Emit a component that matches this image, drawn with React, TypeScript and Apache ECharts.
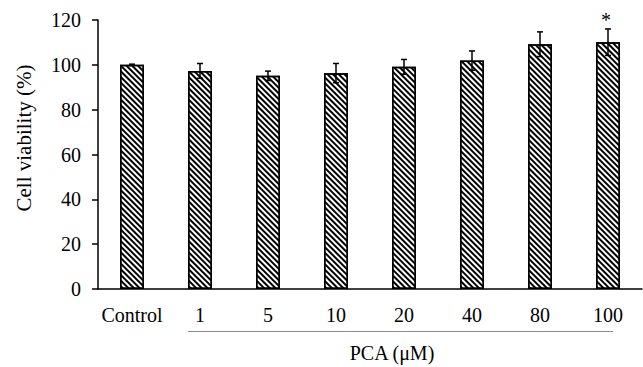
import React, { useEffect, useRef } from "react";
import * as echarts from "echarts";

const categories = ["Control", "1", "5", "10", "20", "40", "80", "100"];
const viability = [100, 97.3, 95.1, 96.3, 99.1, 101.9, 109.2, 110.1];
const errors = [0.3, 3.3, 2.1, 4.3, 3.3, 4.3, 5.5, 5.9];
const significance = ["", "", "", "", "", "", "", "*"];
const yTicks = [0, 20, 40, 60, 80, 100, 120];

const FONT = "Liberation Serif";
const FS = 20;

export default function App() {
  const ref = useRef<HTMLDivElement>(null);
  useEffect(() => {
    if (!ref.current) return;
    const chart = echarts.init(ref.current, null, { renderer: "svg" });
    const errData = viability.map((v, i) => [i, v - errors[i], v + errors[i], v]);
    chart.setOption({
      animation: false,
      backgroundColor: "#fff",
      grid: { left: 98, right: 1, top: 20, bottom: 78 },
      xAxis: {
        type: "category",
        data: categories,
        axisLine: { lineStyle: { color: "#000", width: 1.5 } },
        axisTick: { show: false },
        axisLabel: { color: "#000", fontFamily: FONT, fontSize: FS, margin: 16, interval: 0, hideOverlap: false },
      },
      yAxis: {
        type: "value",
        min: yTicks[0],
        max: yTicks[yTicks.length - 1],
        interval: 20,
        splitLine: { show: false },
        axisLine: { show: true, lineStyle: { color: "#000", width: 1.5 } },
        axisTick: { show: true, length: 6, lineStyle: { color: "#000", width: 1.5 } },
        axisLabel: { color: "#000", fontFamily: FONT, fontSize: FS, margin: 17 },
      },
      graphic: [
        {
          type: "text",
          x: 24,
          y: 138,
          rotation: Math.PI / 2,
          style: {
            text: "Cell viability (%)",
            fontFamily: FONT,
            fontSize: 21,
            fill: "#000",
            align: "center",
            verticalAlign: "middle",
          },
        },
        {
          type: "line",
          shape: { x1: 188, y1: 331.5, x2: 613, y2: 331.5 },
          style: { stroke: "#8c8c8c", lineWidth: 1 },
        },
        {
          type: "text",
          x: 392,
          y: 353,
          style: {
            text: "PCA (μM)",
            fontFamily: FONT,
            fontSize: FS,
            fill: "#000",
            align: "center",
            verticalAlign: "middle",
          },
        },
      ],
      series: [
        {
          type: "bar",
          data: viability,
          barWidth: 24,
          itemStyle: {
            color: "#fff",
            borderColor: "#000",
            borderWidth: 1.5,
            decal: {
              symbol: "rect",
              symbolSize: 1,
              dashArrayX: [1, 0],
              dashArrayY: [2, 2],
              rotation: Math.PI / 4,
              color: "#000",
              backgroundColor: "#fff",
            },
          },
        },
        {
          type: "custom",
          data: errData,
          z: 10,
          renderItem: (params: any, api: any) => {
            const i = api.value(0);
            const lo = api.coord([i, api.value(1)]);
            const hi = api.coord([i, api.value(2)]);
            const x = lo[0];
            const cap = 3;
            const children: any[] = [
              { type: "line", shape: { x1: x, y1: lo[1], x2: x, y2: hi[1] }, style: { stroke: "#000", lineWidth: 1.5 } },
              { type: "line", shape: { x1: x - cap, y1: hi[1], x2: x + cap, y2: hi[1] }, style: { stroke: "#000", lineWidth: 1.5 } },
              { type: "line", shape: { x1: x - cap, y1: lo[1], x2: x + cap, y2: lo[1] }, style: { stroke: "#000", lineWidth: 1.5 } },
            ];
            const sig = significance[params.dataIndex];
            if (sig) {
              children.push({
                type: "text",
                x: x - 2,
                y: hi[1] - 9,
                style: { text: sig, fontFamily: FONT, fontSize: FS, fill: "#000", align: "center", verticalAlign: "middle" },
              });
            }
            return { type: "group", children };
          },
        },
      ],
    });
    return () => chart.dispose();
  }, []);
  return <div ref={ref} style={{ width: 643, height: 367, position: "absolute", left: 0, top: 0 }} />;
}
